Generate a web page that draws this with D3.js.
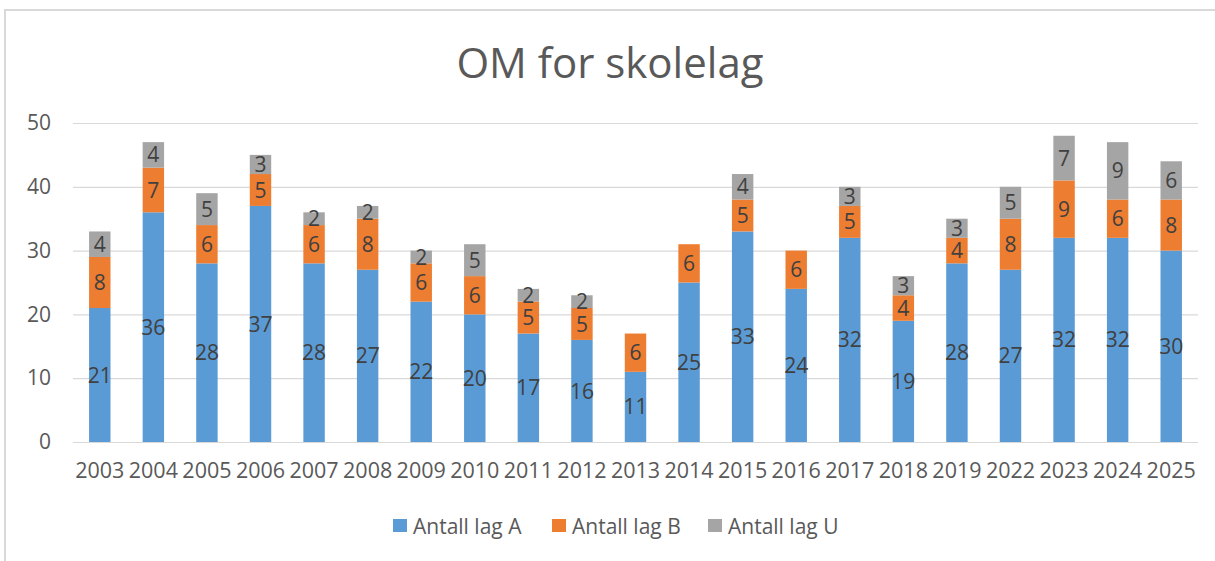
<!DOCTYPE html>
<html>
<head>
<meta charset="utf-8">
<script src="https://cdn.jsdelivr.net/npm/d3@7"></script>
<style>
  body { margin: 0; background: #fff; }
  svg { font-family: "Open Sans", sans-serif; }
</style>
</head>
<body>
<svg id="chart" width="1215" height="561"></svg>
<script>
// data
var years = ["2003","2004","2005","2006","2007","2008","2009","2010","2011","2012","2013",
             "2014","2015","2016","2017","2018","2019","2022","2023","2024","2025"];
var lagA = [21,36,28,37,28,27,22,20,17,16,11,25,33,24,32,19,28,27,32,32,30];
var lagB = [8,7,6,5,6,8,6,6,5,5,6,6,5,6,5,4,4,8,9,6,8];
var lagU = [4,4,5,3,2,2,2,5,2,2,0,0,4,0,3,3,3,5,7,9,6];
var seriesNames = ["Antall lag A", "Antall lag B", "Antall lag U"];
var yTicks = [0,10,20,30,40,50];

var svg = d3.select("#chart"),
    margin = {top: 123, right: 17, bottom: 119, left: 73},
    width = 1215 - margin.left - margin.right,
    height = 561 - margin.top - margin.bottom;

// chart frame
svg.append("rect")
    .attr("x", 5).attr("y", 10)
    .attr("width", 1220).attr("height", 560)
    .attr("fill", "none")
    .attr("stroke", "#d9d9d9")
    .attr("stroke-width", 2);

svg.append("text")
    .attr("x", 610).attr("y", 78)
    .attr("text-anchor", "middle")
    .attr("fill", "#595959")
    .attr("font-size", 42)
    .text("OM for skolelag");

var g = svg.append("g").attr("transform", "translate(" + margin.left + "," + margin.top + ")");

var table = years.map(function(y, i) {
  return {year: y, "Antall lag A": lagA[i], "Antall lag B": lagB[i], "Antall lag U": lagU[i]};
});

var x = d3.scaleBand().domain(years).range([0, width]).paddingInner(0.6).paddingOuter(0.3);
var y = d3.scaleLinear().domain([0, 50]).range([height, 0]);
var z = d3.scaleOrdinal().domain(seriesNames).range(["#5b9bd5", "#ed7d31", "#a5a5a5"]);

// gridlines
g.append("g")
  .selectAll("line")
  .data(yTicks)
  .enter().append("line")
    .attr("x1", 0).attr("x2", width)
    .attr("y1", function(d) { return y(d) + 0.5; })
    .attr("y2", function(d) { return y(d) + 0.5; })
    .attr("stroke", "#d9d9d9")
    .attr("stroke-width", 1.2);

var stacked = d3.stack().keys(seriesNames)(table);

var layer = g.append("g")
  .selectAll("g")
  .data(stacked)
  .enter().append("g")
    .attr("fill", function(d) { return z(d.key); });

layer.selectAll("rect")
  .data(function(d) { return d; })
  .enter().append("rect")
    .attr("x", function(d) { return x(d.data.year); })
    .attr("y", function(d) { return y(d[1]); })
    .attr("width", x.bandwidth())
    .attr("height", function(d) { return y(d[0]) - y(d[1]); });

layer.selectAll("text")
  .data(function(d) { return d.filter(function(p) { return p[1] - p[0] > 0; }); })
  .enter().append("text")
    .attr("x", function(d) { return x(d.data.year) + x.bandwidth() / 2; })
    .attr("y", function(d) { return y((d[0] + d[1]) / 2); })
    .attr("dy", "0.36em")
    .attr("text-anchor", "middle")
    .attr("fill", "#404040")
    .attr("font-size", 21)
    .text(function(d) { return d[1] - d[0]; });

// axes
var yAxis = g.append("g")
    .call(d3.axisLeft(y).tickValues(yTicks).tickSize(0).tickPadding(22));
yAxis.select(".domain").remove();
yAxis.selectAll("text").attr("fill", "#595959").attr("font-size", 21)
    .attr("font-family", "Open Sans, sans-serif");

var xAxis = g.append("g")
    .attr("transform", "translate(0," + height + ")")
    .call(d3.axisBottom(x).tickSize(0).tickPadding(21));
xAxis.select(".domain").remove();
xAxis.selectAll("text").attr("fill", "#595959").attr("font-size", 21.5)
    .attr("font-family", "Open Sans, sans-serif");

// legend
var legendX = [393, 552, 708];
var legend = svg.append("g")
  .selectAll("g")
  .data(seriesNames)
  .enter().append("g")
    .attr("transform", function(d, i) { return "translate(" + legendX[i] + ",526)"; });

legend.append("rect")
    .attr("x", 0).attr("y", -7)
    .attr("width", 14).attr("height", 13)
    .attr("fill", z);

legend.append("text")
    .attr("x", 20)
    .attr("dy", "0.36em")
    .attr("fill", "#595959")
    .attr("font-size", 21)
    .text(function(d) { return d; });
</script>
</body>
</html>
